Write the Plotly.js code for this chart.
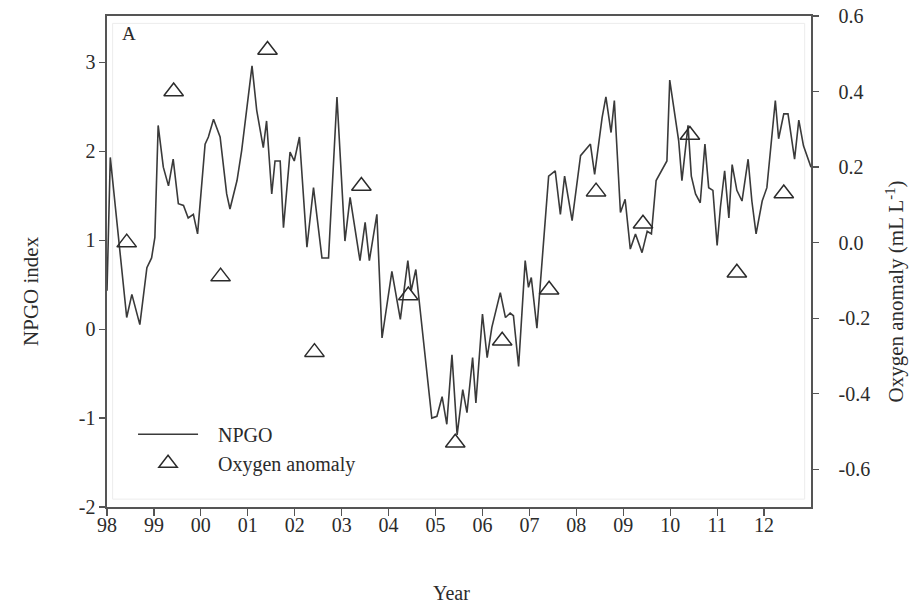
<!DOCTYPE html>
<html>
<head>
<meta charset="utf-8">
<script src="https://cdn.plot.ly/plotly-3.0.1.min.js"></script>
<style>
  html, body { margin: 0; padding: 0; background: #ffffff; }
  #chart { width: 922px; height: 606px; }
</style>
</head>
<body>
<div id="chart"></div>
<script>
// NPGO index (decimal year, index value)
const npgoYear = [
  1998.00, 1998.07, 1998.42, 1998.53, 1998.70, 1998.85, 1998.95, 1999.02, 1999.09, 1999.20,
  1999.31, 1999.41, 1999.52, 1999.63, 1999.73, 1999.84, 1999.93, 2000.09, 2000.16, 2000.27,
  2000.41, 2000.55, 2000.62, 2000.77, 2000.87, 2001.09, 2001.19, 2001.33, 2001.40, 2001.51,
  2001.58, 2001.69, 2001.76, 2001.90, 2001.99, 2002.10, 2002.26, 2002.40, 2002.58, 2002.72,
  2002.90, 2003.07, 2003.18, 2003.39, 2003.50, 2003.59, 2003.75, 2003.86, 2004.07, 2004.25,
  2004.41, 2004.48, 2004.58, 2004.92, 2005.03, 2005.14, 2005.24, 2005.35, 2005.46, 2005.58,
  2005.67, 2005.79, 2005.86, 2006.00, 2006.10, 2006.20, 2006.38, 2006.49, 2006.59, 2006.66,
  2006.77, 2006.91, 2006.98, 2007.04, 2007.16, 2007.41, 2007.55, 2007.66, 2007.75, 2007.91,
  2008.09, 2008.19, 2008.30, 2008.39, 2008.55, 2008.63, 2008.74, 2008.81, 2008.94, 2009.04,
  2009.15, 2009.26, 2009.40, 2009.51, 2009.60, 2009.70, 2009.83, 2009.93, 2009.99, 2010.18,
  2010.25, 2010.38, 2010.45, 2010.54, 2010.64, 2010.74, 2010.82, 2010.91, 2011.00, 2011.07,
  2011.16, 2011.25, 2011.32, 2011.42, 2011.53, 2011.66, 2011.74, 2011.83, 2011.96, 2012.06,
  2012.24, 2012.31, 2012.42, 2012.51, 2012.65, 2012.74, 2012.84, 2012.95, 2013.00
];
const npgoValue = [
  0.43, 1.93, 0.13, 0.39, 0.05, 0.69, 0.80, 1.03, 2.29, 1.82,
  1.61, 1.91, 1.41, 1.39, 1.25, 1.29, 1.07, 2.08, 2.16, 2.36,
  2.16, 1.52, 1.35, 1.67, 2.01, 2.96, 2.46, 2.04, 2.34, 1.52,
  1.89, 1.89, 1.14, 1.99, 1.89, 2.16, 0.92, 1.59, 0.80, 0.80,
  2.61, 0.99, 1.48, 0.77, 1.20, 0.77, 1.29, -0.10, 0.65, 0.11,
  0.77, 0.43, 0.67, -1.00, -0.98, -0.76, -1.07, -0.29, -1.19, -0.68,
  -0.94, -0.32, -0.83, 0.17, -0.32, 0.02, 0.41, 0.13, 0.18, 0.15,
  -0.42, 0.77, 0.47, 0.58, 0.01, 1.72, 1.78, 1.29, 1.72, 1.22,
  1.95, 2.01, 2.08, 1.74, 2.38, 2.61, 2.21, 2.57, 1.31, 1.46,
  0.90, 1.07, 0.86, 1.10, 1.07, 1.67, 1.80, 1.89, 2.80, 2.12,
  1.67, 2.29, 1.72, 1.52, 1.42, 2.08, 1.59, 1.56, 0.94, 1.37,
  1.78, 1.25, 1.85, 1.56, 1.44, 1.91, 1.44, 1.07, 1.44, 1.59,
  2.57, 2.14, 2.42, 2.42, 1.91, 2.35, 2.06, 1.89, 1.82
];

// Annual oxygen anomaly (mL L-1)
const oxyYear = [
  1998.42, 1999.42, 2000.42, 2001.42, 2002.42, 2003.42, 2004.42, 2005.42,
  2006.42, 2007.42, 2008.42, 2009.42, 2010.42, 2011.42, 2012.42
];
const oxyValue = [
  0.00, 0.40, -0.09, 0.51, -0.29, 0.15, -0.14, -0.53,
  -0.26, -0.125, 0.135, 0.05, 0.285, -0.08, 0.13
];

// Axis ticks
const xTickVals = [1998, 1999, 2000, 2001, 2002, 2003, 2004, 2005, 2006, 2007, 2008, 2009, 2010, 2011, 2012];
const xTickText = ['98', '99', '00', '01', '02', '03', '04', '05', '06', '07', '08', '09', '10', '11', '12'];
const yTickVals = [-2, -1, 0, 1, 2, 3];
const yTickText = ['-2', '-1', '0', '1', '2', '3'];
const y2TickVals = [-0.6, -0.4, -0.2, 0.0, 0.2, 0.4, 0.6];
const y2TickText = ['-0.6', '-0.4', '-0.2', '0.0', '0.2', '0.4', '0.6'];

const ink = '#2b2b2b';
const axisInk = '#555555';
const serif = 'Liberation Serif, Times New Roman, serif';
const gap = '\u00a0\u00a0\u00a0';

const traces = [
  {
    type: 'scatter',
    mode: 'lines',
    name: gap + 'NPGO',
    x: npgoYear,
    y: npgoValue,
    line: { color: '#3a3a3a', width: 1.6 },
    xaxis: 'x',
    yaxis: 'y'
  },
  {
    type: 'scatter',
    mode: 'markers',
    name: gap + 'Oxygen anomaly',
    x: oxyYear,
    y: oxyValue,
    marker: { symbol: 'triangle-up-open', size: 17, color: ink, line: { color: ink, width: 1.5 } },
    xaxis: 'x',
    yaxis: 'y2'
  }
];

const layout = {
  width: 922,
  height: 606,
  margin: { l: 107, r: 111, t: 16, b: 99 },
  paper_bgcolor: '#ffffff',
  plot_bgcolor: '#ffffff',
  font: { family: serif, size: 20, color: ink },
  showlegend: true,
  legend: {
    x: 0.037, y: 0.188, xanchor: 'left', yanchor: 'top',
    bgcolor: 'rgba(0,0,0,0)',
    font: { family: serif, size: 20, color: ink },
    itemwidth: 60,
    tracegroupgap: 0
  },
  xaxis: {
    range: [1998, 2013],
    tickmode: 'array', tickvals: xTickVals, ticktext: xTickText,
    ticks: 'outside', ticklen: 7, tickwidth: 1.2, tickcolor: axisInk,
    ticklabelstandoff: -8,
    showline: true, linecolor: axisInk, linewidth: 1.6, mirror: true,
    showgrid: false, zeroline: false,
    tickfont: { family: serif, size: 20, color: ink }
  },
  yaxis: {
    range: [-2, 3.52],
    tickmode: 'array', tickvals: yTickVals, ticktext: yTickText,
    ticks: 'outside', ticklen: 6, tickwidth: 1.2, tickcolor: axisInk,
    showline: true, linecolor: axisInk, linewidth: 1.6,
    showgrid: false, zeroline: false,
    tickfont: { family: serif, size: 20, color: ink }
  },
  yaxis2: {
    overlaying: 'y', side: 'right',
    range: [-0.7, 0.6],
    tickmode: 'array', tickvals: y2TickVals, ticktext: y2TickText,
    ticks: 'outside', ticklen: 6, tickwidth: 1.2, tickcolor: axisInk,
    ticklabelstandoff: 16,
    showline: true, linecolor: axisInk, linewidth: 1.6,
    showgrid: false, zeroline: false,
    tickfont: { family: serif, size: 20, color: ink }
  },
  shapes: [
    // faint inner frame of the plotting area
    { type: 'rect', xref: 'paper', yref: 'paper', x0: 0.008, x1: 0.991, y0: 0.016, y1: 0.985,
      line: { color: '#ececec', width: 1 }, layer: 'below' }
  ],
  annotations: [
    { text: 'A', xref: 'paper', yref: 'paper', x: 0.018, y: 0.965, xanchor: 'left', yanchor: 'middle',
      showarrow: false, font: { family: serif, size: 19, color: ink } },
    { text: 'Year', xref: 'paper', yref: 'paper', x: 0.49, y: -0.175, xanchor: 'center', yanchor: 'middle',
      showarrow: false, font: { family: serif, size: 20, color: ink } },
    { text: 'NPGO index', xref: 'paper', yref: 'paper', x: -0.108, y: 0.44, xanchor: 'center', yanchor: 'middle',
      textangle: -90, showarrow: false, font: { family: serif, size: 21, color: ink } },
    { text: 'Oxygen anomaly (mL L<sup>-1</sup>)', xref: 'paper', yref: 'paper', x: 1.12, y: 0.44,
      xanchor: 'center', yanchor: 'middle', textangle: -90, showarrow: false,
      font: { family: serif, size: 21, color: ink } }
  ]
};

Plotly.newPlot('chart', traces, layout, { displayModeBar: false, staticPlot: true });
</script>
</body>
</html>
